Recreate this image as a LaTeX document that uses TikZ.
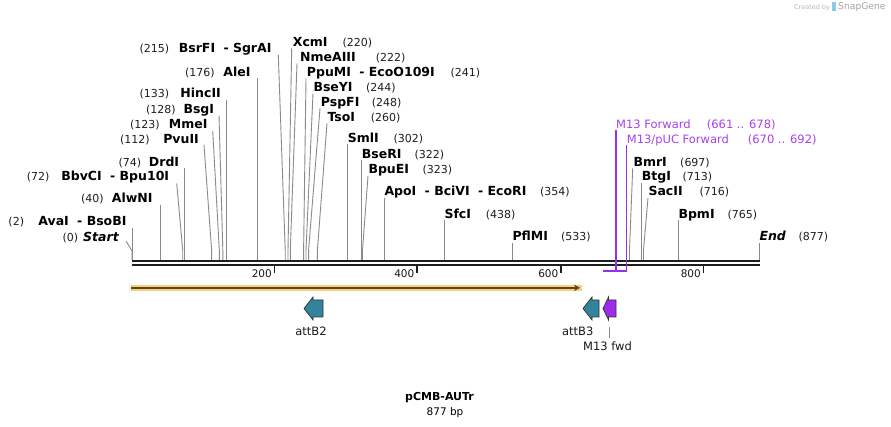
\documentclass[tikz,border=0pt]{standalone}
\usepackage{fontspec}
\setmainfont{DejaVu Sans}
\usetikzlibrary{arrows.meta}
\definecolor{cutgray}{HTML}{8A8A8A}
\definecolor{bbone}{HTML}{1E1E1E}
\definecolor{glow}{HTML}{F9CF7E}
\definecolor{orfdark}{HTML}{5A4526}
\definecolor{attteal}{HTML}{31849B}
\definecolor{m13purple}{HTML}{9B2DEB}
\definecolor{primertext}{HTML}{A940EE}
\definecolor{outlinegray}{HTML}{333333}
\definecolor{sgray}{HTML}{B8B8B8}
\definecolor{sblue}{HTML}{8CC8F0}
\newcommand\rsite[6]{\node[sitename,anchor=base west] (#1n) at (#4,#5) {#2};\node[sitenum,anchor=base west] (#1p) at (#6,#5) {(#3)};}
\newcommand\lsite[6]{\node[sitename,anchor=base east] (#1n) at (#4,#5) {#2};\node[sitenum,anchor=base west] (#1p) at (#6,#5) {(#3)};}
\begin{document}
\begin{tikzpicture}[x=1pt,y=-1pt,
  sitename/.style={font=\bfseries\fontsize{12.5}{14}\selectfont,inner sep=0pt,text=black},
  sitenum/.style={font=\fontsize{11}{13}\selectfont,inner sep=0pt,text=black!88},
  cut/.style={draw=cutgray,line width=0.9pt},
  primer/.style={font=\fontsize{11.5}{13}\selectfont,inner sep=0pt,text=primertext},
  pline/.style={draw=m13purple,line width=1.4pt},
  featlabel/.style={font=\fontsize{11.5}{13}\selectfont,inner sep=0pt,text=black!90},
  ticklabel/.style={font=\fontsize{10.5}{12}\selectfont,inner sep=0pt,text=black!90},
  feat/.style={draw=outlinegray,line width=0.7pt,line join=miter}]
\useasboundingbox[fill=white] (0,0) rectangle (891,427);

% backbone
\draw[bbone,line width=1.8pt] (131.5,261.3) -- (760,261.3);
\draw[bbone,line width=2.1pt] (131.5,265.1) -- (760,265.1);

% ticks
\foreach \tx/\tl in {274.5/200, 417/400, 561/600, 703.5/800}{
  \draw[bbone,line width=1.3pt] (\tx,266) -- (\tx,272.8);
  \node[ticklabel,anchor=base east] at (\tx-2.5,277.5) {\tl};
}

% cut lines
\draw[cut] (126,241) -- (132,251) -- (132,260);
\draw[cut] (132.7,228.3) -- (132.7,260);
\draw[cut] (160.5,205) -- (160.5,260);
\draw[cut] (176.7,183.3) -- (182.7,250) -- (182.7,260);
\draw[cut] (184.3,168.5) -- (184.3,260);
\draw[cut] (204,145) -- (211.6,250) -- (211.6,260);
\draw[cut] (212.7,131) -- (219.3,250) -- (219.3,260);
\draw[cut] (219,115.5) -- (222.8,250) -- (222.8,260);
\draw[cut] (226.7,100) -- (226.7,260);
\draw[cut] (257.3,78.3) -- (257.3,260);
\draw[cut] (278.3,55) -- (285.2,250) -- (285.2,260);
\draw[cut] (291.7,48.5) -- (288,250) -- (288,260);
\draw[cut] (297,63.5) -- (290.3,250) -- (290.3,260);
\draw[cut] (306,78.5) -- (303.6,250) -- (303.6,260);
\draw[cut] (313,93.5) -- (306,250) -- (306,260);
\draw[cut] (320,108.5) -- (308.6,250) -- (308.6,260);
\draw[cut] (327,123.5) -- (317.4,250) -- (317.4,260);
\draw[cut] (347.7,144.5) -- (347.7,260);
\draw[cut] (361.7,160) -- (361.7,260);
\draw[cut] (368,176) -- (362.5,250) -- (362.5,260);
\draw[cut] (384.3,198) -- (384.3,260);
\draw[cut] (444.3,220) -- (444.3,260);
\draw[cut] (512.3,243) -- (512.3,260);
\draw[cut] (632.7,168.5) -- (629.5,250) -- (629.5,260);
\draw[cut] (641.5,183) -- (641.5,260);
\draw[cut] (648,198) -- (643.5,250) -- (643.5,260);
\draw[cut] (678.5,220) -- (678.5,260);
\draw[cut] (759.5,243) -- (759.5,260);

% left-side sites
\lsite{s0}{\itshape Start}{0}{119}{241.6}{62.3}
\lsite{s2}{AvaI\hspace{4pt} - BsoBI}{2}{126.7}{226}{8.3}
\lsite{s40}{AlwNI}{40}{152.7}{202.6}{81}
\lsite{s72}{BbvCI\hspace{4pt} - Bpu10I}{72}{169.3}{181}{26.7}
\lsite{s74}{DrdI}{74}{179.3}{167}{118.3}
\lsite{s112}{PvuII}{112}{199}{143.3}{120}
\lsite{s123}{MmeI}{123}{207.7}{129}{130}
\lsite{s128}{BsgI}{128}{214.3}{113.6}{146}
\lsite{s133}{HincII}{133}{221}{97.6}{139.3}
\lsite{s176}{AleI}{176}{250.7}{77}{185}
\lsite{s215}{BsrFI\hspace{4pt} - SgrAI}{215}{271.7}{52.6}{139.3}

% right-side sites
\rsite{s220}{XcmI}{220}{292.7}{47}{342.3}
\rsite{s222}{NmeAIII}{222}{300}{61.6}{375.7}
\rsite{s241}{PpuMI\hspace{4pt} - EcoO109I}{241}{306.7}{76.6}{450.5}
\rsite{s244}{BseYI}{244}{313.3}{91.6}{366}
\rsite{s248}{PspFI}{248}{320.7}{106.6}{371.7}
\rsite{s260}{TsoI}{260}{327.3}{121.6}{370.7}
\rsite{s302}{SmlI}{302}{347.7}{142.6}{393.3}
\rsite{s322}{BseRI}{322}{361.7}{158.3}{414.3}
\rsite{s323}{BpuEI}{323}{368.3}{173.6}{422.3}
\rsite{s354}{ApoI\hspace{4pt} - BciVI\hspace{4pt} - EcoRI}{354}{384.3}{196}{540}
\rsite{s438}{SfcI}{438}{444.3}{218.3}{485.7}
\rsite{s533}{PflMI}{533}{512.3}{241}{561}
\rsite{s697}{BmrI}{697}{633.3}{166.6}{680}
\rsite{s713}{BtgI}{713}{641.7}{181}{682.3}
\rsite{s716}{SacII}{716}{648.3}{196}{699.3}
\rsite{s765}{BpmI}{765}{678.3}{218.3}{727.3}
\rsite{s877}{\itshape End}{877}{759.3}{241}{798.3}

% primers
\node[primer,anchor=base west] (m13n) at (616,128.3) {M13 Forward};
\node[primer,anchor=base west] (m13p) at (706.7,128.3) {(661 .. 678)};
\node[primer,anchor=base west] (pucn) at (626.7,143.3) {M13/pUC Forward};
\node[primer,anchor=base west] (pucp) at (747.7,143.3) {(670 .. 692)};
\draw[pline] (616,130) -- (616,271);
\draw[pline] (626.3,145) -- (626.3,271.7);
\draw[pline] (603.3,271) -- (626.3,271);

% ORF-like arrow
\draw[glow,line width=6pt] (131,287.8) -- (581.5,287.8);
\draw[orfdark,line width=2.2pt,-{Stealth[length=6pt,width=6.5pt]}] (131,287.8) -- (580,287.8);

% features
\path[feat,fill=attteal] (304,308.5) -- (313,297) -- (313,300) -- (323,300) -- (323,317) -- (313,317) -- (313,320) -- cycle;
\path[feat,fill=attteal] (583,308.5) -- (592,297) -- (592,300) -- (599,300) -- (599,317) -- (592,317) -- (592,320) -- cycle;
\path[feat,fill=m13purple] (603,308.5) -- (608.5,297) -- (608.5,300) -- (616,300) -- (616,317) -- (608.5,317) -- (608.5,320) -- cycle;
\node[featlabel,anchor=base] (attb2) at (311,335) {attB2};
\node[featlabel,anchor=base] (attb3) at (577.8,335) {attB3};
\node[featlabel,anchor=base] (m13fwd) at (607.5,350.5) {M13 fwd};
\draw[cutgray,line width=0.8pt] (609.3,327) -- (609.3,338);

% title
\node[font=\bfseries\fontsize{11}{13}\selectfont,inner sep=0pt,anchor=base] (title) at (439.5,400.7) {pCMB-AUTr};
\node[font=\fontsize{10.5}{12}\selectfont,inner sep=0pt,anchor=base] (size) at (445,415) {877 bp};

% watermark
\node[font=\fontsize{6.5}{8}\selectfont,inner sep=0pt,anchor=base west,text=sgray] (created) at (794,9.5) {Created by};
\fill[sblue] (832,2.5) rectangle (835.5,11);
\node[font=\fontsize{9.2}{11}\selectfont,inner sep=0pt,anchor=base west,text=sgray!90!black] (snapgene) at (838,10) {SnapGene};
\end{tikzpicture}
\end{document}
